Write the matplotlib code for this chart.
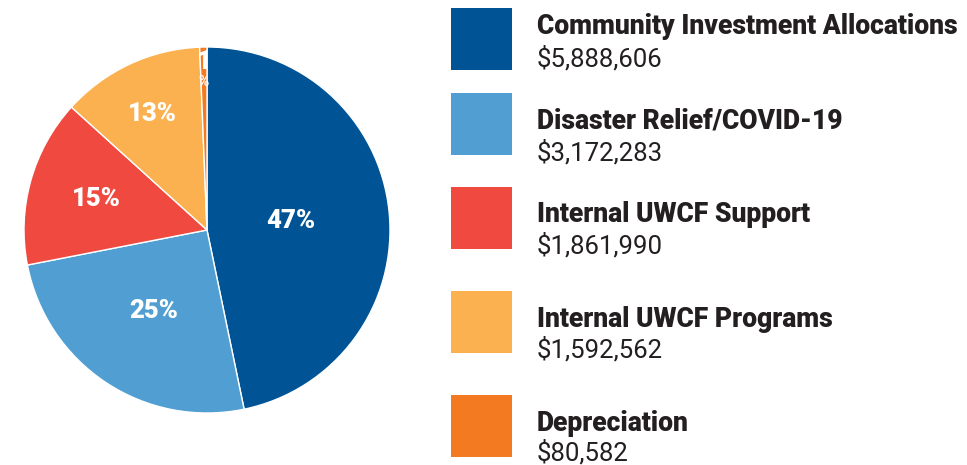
import matplotlib
matplotlib.use("Agg")
import matplotlib.pyplot as plt
from matplotlib.patches import Rectangle
import numpy as np

categories = ["Community Investment Allocations", "Disaster Relief/COVID-19",
              "Internal UWCF Support", "Internal UWCF Programs", "Depreciation"]
values = [5888606, 3172283, 1861990, 1592562, 80582]
value_labels = ["$5,888,606", "$3,172,283", "$1,861,990", "$1,592,562", "$80,582"]
colors = ["#005495", "#519fd2", "#f04a40", "#fcb151", "#f47a21"]

# label radial distances (style)
label_dist = [0.46, 0.53, 0.63, 0.70, 0.865]

W, H = 967, 465
fig = plt.figure(figsize=(W / 100, H / 100), dpi=100)

# pie axes: center (207,230) px, radius 183 px
cx, cy, r = 207, 230, 183
ax = fig.add_axes([(cx - r) / W, (H - cy - r) / H, 2 * r / W, 2 * r / H])
wedges, _ = ax.pie(values, colors=colors, startangle=90, counterclock=False,
                   radius=1.0, wedgeprops=dict(edgecolor="white", linewidth=1.0))
ax.set_xlim(-1, 1)
ax.set_ylim(-1, 1)
ax.set_aspect("equal")
ax.axis("off")

total = sum(values)
for w, v, d in zip(wedges, values, label_dist):
    pct = round(v / total * 100)
    ang = np.deg2rad((w.theta1 + w.theta2) / 2)
    x, y = d * np.cos(ang), d * np.sin(ang)
    if pct < 3:
        ax.text(x, y + 0.055, f"{pct}", ha="center", va="center", color="white",
                fontsize=18, fontweight="black", family="Roboto")
        ax.text(x, y - 0.055, "%", ha="center", va="center", color="white",
                fontsize=10, fontweight="bold", family="Roboto")
    else:
        ax.text(x, y, f"{pct}%", ha="center", va="center", color="white",
                fontsize=18.5, fontweight="black", family="Roboto")

# legend overlay in pixel coords
lg = fig.add_axes([0, 0, 1, 1])
lg.set_xlim(0, W)
lg.set_ylim(H, 0)
lg.axis("off")
lg.patch.set_alpha(0)

sq_top = [8, 93, 187, 291, 395]
title_base = [34, 128, 222, 327, 431]
value_base = [67, 160, 253, 357, 460]
for i, (cat, vl, c) in enumerate(zip(categories, value_labels, colors)):
    lg.add_patch(Rectangle((451, sq_top[i]), 61, 62, facecolor=c, edgecolor="none"))
    lg.text(537, title_base[i], cat, ha="left", va="baseline", fontsize=19.1,
            fontweight="black", family="Roboto", color="#231f20")
    lg.text(537, value_base[i], vl, ha="left", va="baseline", fontsize=18.5,
            family="Roboto", color="#231f20")

fig.savefig("out.png", dpi=100, facecolor="white")
